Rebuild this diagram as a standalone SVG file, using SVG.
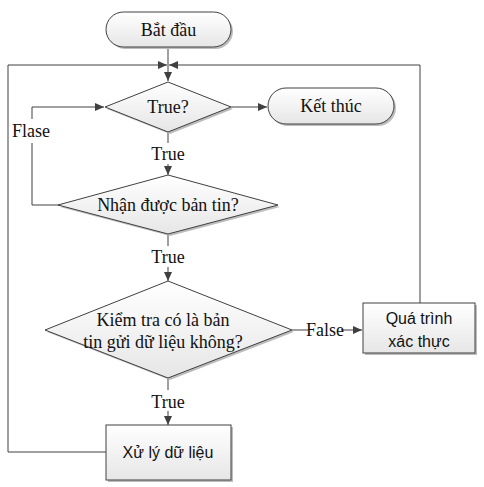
<svg xmlns="http://www.w3.org/2000/svg" width="484" height="487" viewBox="0 0 484 487">
<style>
.shape{fill:url(#g);stroke:#404040;stroke-width:1}
.shadow{fill:#bdbdbd;stroke:none}
.serif{font-family:'Liberation Serif','Times New Roman','DejaVu Serif',serif;font-size:18px;fill:#111;text-anchor:middle}
.sans{font-family:'Liberation Sans','DejaVu Sans',sans-serif;font-size:16px;fill:#111;text-anchor:middle}
.con{fill:none;stroke:#404040;stroke-width:1}
</style>
<defs>
<linearGradient id="g" x1="0" y1="0" x2="0" y2="1">
<stop offset="0" stop-color="#ffffff"/>
<stop offset="1" stop-color="#e6e6e6"/>
</linearGradient>
<marker id="a" markerUnits="userSpaceOnUse" markerWidth="10" markerHeight="8" refX="9" refY="4" orient="auto">
<path d="M0,0 L9,4 L0,8 Z" fill="#404040"/>
</marker>
</defs>
<rect width="484" height="487" fill="#fff"/>
<g id="connectors">
<path class="con" d="M168,47 V81" marker-end="url(#a)"/>
<path class="con" d="M106,452 H8 V65 H167" marker-end="url(#a)"/>
<path class="con" d="M420,303 V65 H169" marker-end="url(#a)"/>
<path class="con" d="M231,107 H267" marker-end="url(#a)"/>
<path class="con" d="M60,205 H32 V143"/>
<path class="con" d="M32,119 V107 H104" marker-end="url(#a)"/>
<path class="con" d="M168,132 V143"/>
<path class="con" d="M168,164 V175" marker-end="url(#a)"/>
<path class="con" d="M168,234 V246"/>
<path class="con" d="M168,267 V281" marker-end="url(#a)"/>
<path class="con" d="M168,378 V390"/>
<path class="con" d="M168,411 V425" marker-end="url(#a)"/>
<path class="con" d="M292,330 H308"/>
<path class="con" d="M341,330 H362" marker-end="url(#a)"/>
<text class="serif" x="31" y="137">Flase</text>
<text class="serif" x="168" y="160">True</text>
<text class="serif" x="168" y="263">True</text>
<text class="serif" x="168" y="408">True</text>
<text class="serif" x="325" y="336">False</text>
</g>
<g id="start">
<rect class="shadow" x="108" y="14" width="125" height="35" rx="17.5"/>
<rect class="shape" x="106" y="12" width="125" height="35" rx="17.5"/>
<text class="serif" x="168.5" y="36">Bắt đầu</text>
</g>
<g id="cond-true">
<polygon class="shadow" points="170,84 233,109 170,134 107,109"/>
<polygon class="shape" points="168,82 231,107 168,132 105,107"/>
<text class="serif" x="168" y="113">True?</text>
</g>
<g id="end">
<rect class="shadow" x="270" y="90" width="126" height="36" rx="18"/>
<rect class="shape" x="268" y="88" width="126" height="36" rx="18"/>
<text class="serif" x="331" y="112">Kết thúc</text>
</g>
<g id="cond-received">
<polygon class="shadow" points="170,177 280,207 170,236 60,207"/>
<polygon class="shape" points="168,175 278,205 168,234 58,205"/>
<text class="serif" x="168" y="211">Nhận được bản tin?</text>
</g>
<g id="cond-data">
<polygon class="shadow" points="170,283 294,332 170,380 47,332"/>
<polygon class="shape" points="168,281 292,330 168,378 45,330"/>
<text class="serif" x="163" y="326">Kiểm tra có là bản</text>
<text class="serif" x="163" y="348">tin gửi dữ liệu không?</text>
</g>
<g id="auth">
<rect class="shadow" x="365" y="305" width="112" height="50"/>
<rect class="shape" x="363" y="303" width="112" height="50"/>
<text class="sans" x="419" y="324">Quá trình</text>
<text class="sans" x="419" y="347">xác thực</text>
</g>
<g id="process">
<rect class="shadow" x="108" y="427" width="125" height="55"/>
<rect class="shape" x="106" y="425" width="125" height="55"/>
<text class="sans" x="168" y="458">Xử lý dữ liệu</text>
</g>
</svg>
